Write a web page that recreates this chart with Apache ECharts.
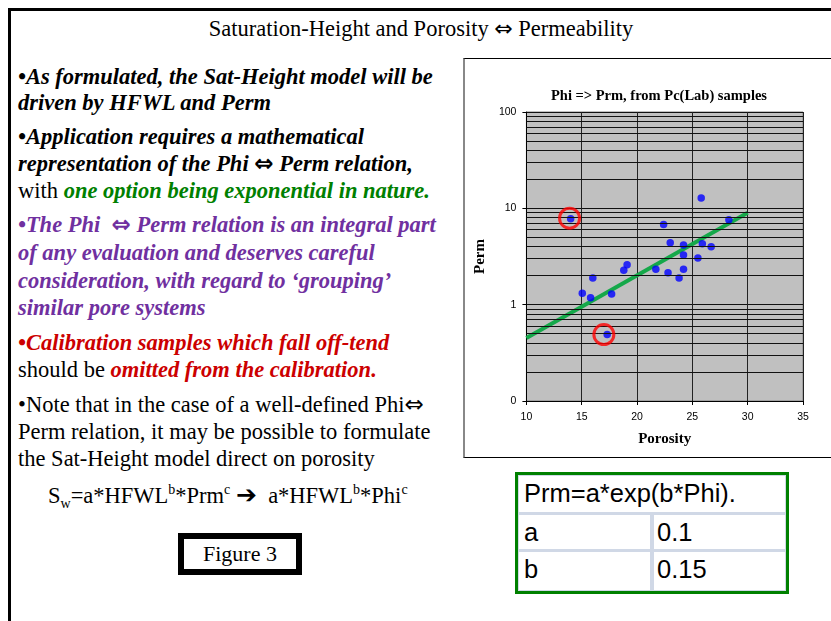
<!DOCTYPE html>
<html>
<head>
<meta charset="utf-8">
<script src="https://cdn.jsdelivr.net/npm/echarts@6/dist/echarts.min.js"></script>
<style>
  html, body { margin:0; padding:0; background:#fff; }
  body { width:831px; height:621px; position:relative; overflow:hidden; font-family:"Liberation Serif","Times New Roman",serif; }
  .ln { position:absolute; left:18px; white-space:nowrap; line-height:26px; height:26px; font-size:22.5px; color:#000; }
  .bi { font-weight:bold; font-style:italic; }
  .g { color:#008000; }
  .p { color:#7030A0; }
  .r { color:#CC0000; }
  .ar { font-family:"DejaVu Sans"; font-style:normal; font-size:23px; line-height:20px; }
  .cell { position:absolute; font-family:"Liberation Sans",Arial,sans-serif; font-size:25.5px; color:#000; line-height:30px; white-space:nowrap; }
</style>
</head>
<body>
<div style="position:absolute;left:8px;top:8px;width:900px;height:700px;border:3px solid #000;"></div>
<div style="position:absolute;left:0;width:842px;top:15px;line-height:28px;height:28px;font-size:22.5px;text-align:center;">Saturation-Height and Porosity <span class="ar" style="font-size:22px;">⇔</span> Permeability</div>

<div class="ln bi" style="top:64px;">•As formulated, the Sat-Height model will be</div>
<div class="ln bi" style="top:90px;">driven by HFWL and Perm</div>
<div class="ln bi" style="top:124px;">•Application requires a mathematical</div>
<div class="ln bi" style="top:151px;">representation of the Phi <span class="ar" style="font-weight:bold;">⇔</span> Perm relation,</div>
<div class="ln" style="top:178px;">with <span class="bi g">one option being exponential in nature.</span></div>
<div class="ln bi p" style="top:212px;">•The Phi &nbsp;<span class="ar" style="font-weight:bold;">⇔</span> Perm relation is an integral part</div>
<div class="ln bi p" style="top:240px;">of any evaluation and deserves careful</div>
<div class="ln bi p" style="top:268px;">consideration, with regard to ‘grouping’</div>
<div class="ln bi p" style="top:295px;">similar pore systems</div>
<div class="ln bi r" style="top:330px;">•Calibration samples which fall off-tend</div>
<div class="ln" style="top:357px;">should be <span class="bi r">omitted from the calibration.</span></div>
<div class="ln" style="top:392px;">•Note that in the case of a well-defined Phi<span class="ar">⇔</span></div>
<div class="ln" style="top:419px;">Perm relation, it may be possible to formulate</div>
<div class="ln" style="top:446px;">the Sat-Height model direct on porosity</div>
<div class="ln" style="top:477px;left:48px;font-size:22.5px;">S<sub style="font-size:14px;">w</sub>=a*HFWL<sup style="font-size:14px;">b</sup>*Prm<sup style="font-size:14px;">c</sup> <span style="font-family:'DejaVu Sans';font-size:25px;line-height:20px;font-weight:bold;">➔</span>&nbsp; a*HFWL<sup style="font-size:14px;">b</sup>*Phi<sup style="font-size:14px;">c</sup></div>

<div style="position:absolute;left:178px;top:533px;width:112px;height:30px;border:6px solid #000;text-align:center;font-size:22px;line-height:30px;">Figure 3</div>

<!-- chart box -->
<div style="position:absolute;left:463px;top:58px;width:400px;height:398px;border-top:1px solid #000;border-bottom:1px solid #000;border-left:2px solid #888;"></div>
<div id="chart" style="position:absolute;left:465px;top:59px;width:366px;height:398px;"></div>

<!-- table -->
<div style="position:absolute;left:515px;top:472px;width:268px;height:116px;border:3px solid #008000;background:#d0d8e6;"></div>
<div style="position:absolute;left:519px;top:476px;width:266px;height:36px;background:#fff;"></div>
<div style="position:absolute;left:519px;top:515px;width:131px;height:34px;background:#fff;"></div>
<div style="position:absolute;left:654px;top:515px;width:131px;height:34px;background:#fff;"></div>
<div style="position:absolute;left:519px;top:552px;width:131px;height:38px;background:#fff;"></div>
<div style="position:absolute;left:654px;top:552px;width:131px;height:38px;background:#fff;"></div>
<div class="cell" style="left:524px;top:478px;">Prm=a*exp(b*Phi).</div>
<div class="cell" style="left:524px;top:517px;">a</div>
<div class="cell" style="left:657px;top:517px;">0.1</div>
<div class="cell" style="left:524px;top:554px;">b</div>
<div class="cell" style="left:657px;top:554px;">0.15</div>

<script>
// ---- data ----
const porosity = [14.0, 17.3, 15.05, 15.8, 16.0, 17.7, 18.8, 19.1, 21.7, 22.4, 22.8, 23.0, 23.8, 24.2, 24.2, 24.2, 25.5, 25.8, 25.9, 26.7, 28.3];
const perm     = [7.8, 0.49, 1.31, 1.18, 1.89, 1.29, 2.27, 2.6, 2.33, 6.8, 2.15, 4.4, 1.89, 4.16, 3.28, 2.33, 3.05, 12.8, 4.3, 4.0, 7.6];
const outlierPhi  = [13.9, 17.0];
const outlierPerm = [7.9, 0.49];
const trendPhi  = [10, 30];
const trendPerm = [0.45, 9.0];
const minorGridValues = [0.2,0.3,0.4,0.5,0.6,0.7,0.8,0.9, 2,3,4,5,6,7,8,9, 20,30,40,50,60,70,80,90];
const xTicks = { min: 10, max: 35, interval: 5 };
const yRange = { min: 0.1, max: 100 };

const chart = echarts.init(document.getElementById('chart'));
const serif = 'Liberation Serif';
chart.setOption({
  animation: false,
  title: {
    text: 'Phi => Prm, from Pc(Lab) samples',
    left: 189, top: 25, textAlign: 'center',
    textStyle: { fontFamily: serif, fontWeight: 'bold', fontSize: 14.5, color: '#000' }
  },
  grid: { left: 61, top: 53, width: 277, height: 289, show: true, backgroundColor: '#c0c0c0', borderColor: '#808080', borderWidth: 1 },
  xAxis: {
    type: 'value', min: xTicks.min, max: xTicks.max, interval: xTicks.interval,
    name: 'Porosity', nameLocation: 'middle', nameGap: 31,
    nameTextStyle: { fontFamily: serif, fontWeight: 'bold', fontSize: 15, color: '#000' },
    axisLine: { show: true, onZero: false, lineStyle: { color: '#000', width: 1 } },
    axisTick: { show: true, length: 4, lineStyle: { color: '#000' } },
    axisLabel: { fontFamily: 'Liberation Sans', fontSize: 10.5, color: '#000', margin: 11 },
    splitLine: { show: true, lineStyle: { color: '#222', width: 1 } }
  },
  yAxis: {
    type: 'log', logBase: 10, min: yRange.min, max: yRange.max,
    name: 'Perm', nameLocation: 'middle', nameGap: 25, nameRotate: 90,
    nameTextStyle: { fontFamily: serif, fontWeight: 'bold', fontSize: 15, color: '#000' },
    axisLine: { show: true, lineStyle: { color: '#000', width: 1 } },
    axisTick: { show: true, length: 4, lineStyle: { color: '#000' } },
    axisLabel: { fontFamily: 'Liberation Sans', fontSize: 10.5, color: '#000', margin: 10,
      formatter: v => (v < 1 ? '0' : String(Math.round(v))) },
    splitLine: { show: true, lineStyle: { color: '#111', width: 1 } }
  },
  series: [
    {
      type: 'line', data: trendPhi.map((x, i) => [x, trendPerm[i]]),
      symbol: 'none', lineStyle: { color: '#15a84a', width: 4 }, z: 3,
      markLine: {
        silent: true, symbol: 'none', label: { show: false },
        lineStyle: { color: '#111', width: 1, type: 'solid' },
        data: minorGridValues.map(v => ({ yAxis: v }))
      }
    },
    {
      type: 'scatter', data: porosity.map((x, i) => [x, perm[i]]),
      symbolSize: 7.5, itemStyle: { color: '#0000ff' }, z: 4
    },
    {
      type: 'scatter', data: outlierPhi.map((x, i) => [x, outlierPerm[i]]),
      symbol: 'circle', symbolSize: 20,
      itemStyle: { color: 'rgba(0,0,0,0)', borderColor: '#ff0000', borderWidth: 3 }, z: 5
    }
  ]
});
</script>
</body>
</html>
